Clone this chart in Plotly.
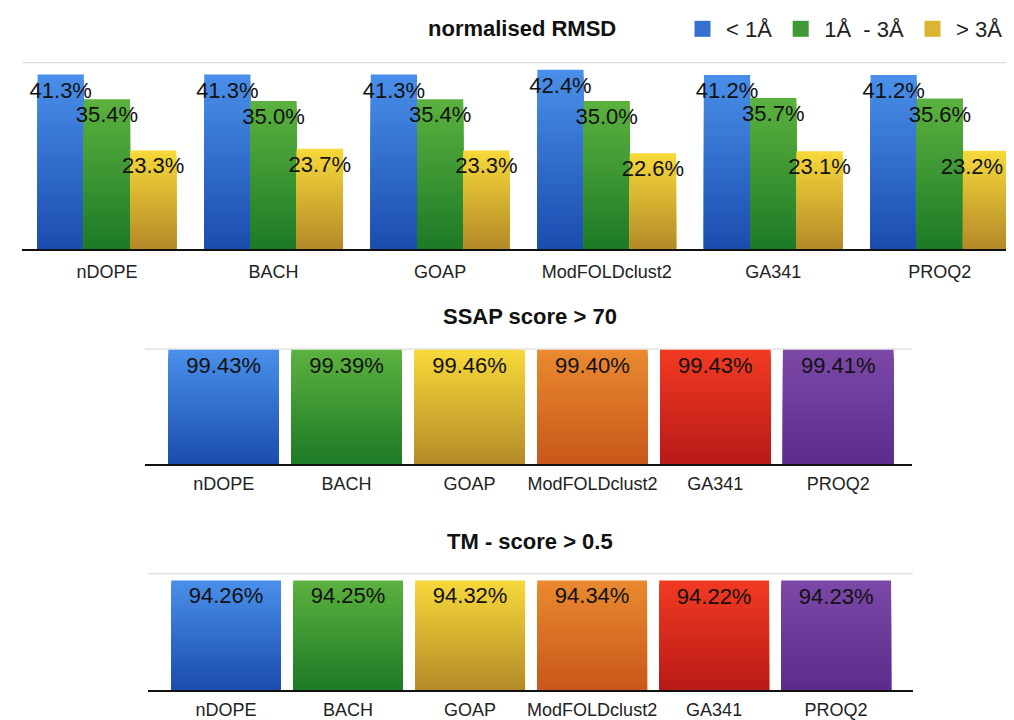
import plotly.graph_objects as go

# ---------------- data ----------------
methods = ["nDOPE", "BACH", "GOAP", "ModFOLDclust2", "GA341", "PROQ2"]

rmsd_series = ["< 1Å", "1Å\u00a0 - 3Å", "> 3Å"]
rmsd_lt1 = [41.3, 41.3, 41.3, 42.4, 41.2, 41.2]
rmsd_1to3 = [35.4, 35.0, 35.4, 35.0, 35.7, 35.6]
rmsd_gt3 = [23.3, 23.7, 23.3, 22.6, 23.1, 23.2]

ssap_gt70 = [99.43, 99.39, 99.46, 99.40, 99.43, 99.41]
tm_gt05 = [94.26, 94.25, 94.32, 94.34, 94.22, 94.23]

# ---------------- styles ----------------
FONT = "Liberation Sans, Arial, Helvetica, sans-serif"
# (bottom colour, top colour) for gradient-like bars
GRAD = {
    "blue": ((26, 76, 174), (74, 144, 234)),
    "green": ((29, 122, 38), (92, 178, 63)),
    "gold": ((179, 138, 40), (247, 217, 58)),
    "orange": ((200, 87, 26), (234, 138, 48)),
    "red": ((184, 26, 24), (242, 58, 34)),
    "purple": ((91, 45, 140), (124, 72, 168)),
}
rmsd_colors = ["blue", "green", "gold"]
method_colors = ["blue", "green", "gold", "orange", "red", "purple"]
N_STEPS = 28


def shade(name, f):
    lo, hi = GRAD[name]
    c = [round(lo[i] + (hi[i] - lo[i]) * f) for i in range(3)]
    return f"rgb({c[0]},{c[1]},{c[2]})"


def mid(name):
    return shade(name, 0.55)


fig = go.Figure()


def gradient_bars(values, colornames, xa, ya, offset, width, labels, label_offset=None):
    # overlapping bars from zero, tallest first, to imitate a vertical gradient
    for k in range(N_STEPS):
        frac = (N_STEPS - k) / N_STEPS
        f = (N_STEPS - k - 0.5) / N_STEPS
        if isinstance(colornames, str):
            col = shade(colornames, f)
        else:
            col = [shade(c, f) for c in colornames]
        fig.add_trace(go.Bar(
            x=methods, y=[v * frac for v in values],
            marker=dict(color=col, line=dict(width=0)),
            offset=offset, width=width, xaxis=xa, yaxis=ya,
            showlegend=False, hoverinfo="skip"))
    # transparent full-height bar carrying the data labels
    fig.add_trace(go.Bar(
        x=methods, y=values, text=labels, textangle=0,
        textposition="inside", insidetextanchor="end", constraintext="none",
        insidetextfont=dict(family=FONT, size=22, color="#111111"),
        marker=dict(color="rgba(0,0,0,0)", line=dict(width=0)),
        offset=label_offset if label_offset is not None else offset,
        width=width, xaxis=xa, yaxis=ya,
        showlegend=False, hoverinfo="skip", cliponaxis=False))


# ---- top panel: normalised RMSD (grouped) ----
bw = 0.2775
offsets = [-1.5 * bw, -0.5 * bw, 0.5 * bw]
for i, (vals, cname, off) in enumerate(zip([rmsd_lt1, rmsd_1to3, rmsd_gt3], rmsd_colors, offsets)):
    lab_off = None
    if i == 2:
        # nudge the right-most label left so it stays inside the visible page
        lab_off = [off] * (len(methods) - 1) + [off - 0.085]
    gradient_bars(vals, cname, "x", "y", off, bw, [f"{v:.1f}%" for v in vals], lab_off)

# legend entries
for name, cname in zip(rmsd_series, rmsd_colors):
    fig.add_trace(go.Scatter(
        x=[None], y=[None], mode="markers", name=name,
        marker=dict(symbol="square", size=16, color=mid(cname)),
        xaxis="x", yaxis="y", showlegend=True))

# ---- middle panel: SSAP ----
gradient_bars(ssap_gt70, method_colors, "x2", "y2", -0.45, 0.9,
              [f"{v:.2f}%" for v in ssap_gt70])

# ---- bottom panel: TM-score ----
gradient_bars(tm_gt05, method_colors, "x3", "y3", -0.45, 0.9,
              [f"{v:.2f}%" for v in tm_gt05])

# page body has an 8px margin: figure drawn at (8, 8)
OFF = 8
W, H = 1014 - OFF, 720 - OFF


def px_x(p):
    return (p - OFF) / W


def px_y(p):
    return 1 - (p - OFF) / H


xcommon = dict(type="category", showline=True, linecolor="#111111", linewidth=2,
               showgrid=False, ticks="", zeroline=False, fixedrange=True,
               tickfont=dict(family=FONT, size=18, color="#222222"))
ycommon = dict(showgrid=False, showline=False, showticklabels=False, zeroline=False,
               ticks="", fixedrange=True)

fig.update_layout(
    width=W, height=H,
    margin=dict(l=0, r=0, t=0, b=0),
    paper_bgcolor="white", plot_bgcolor="white",
    barmode="overlay",
    font=dict(family=FONT, color="#222222"),
    xaxis=dict(xcommon, domain=[px_x(22), 1.0], range=[-0.51, 5.445],
               anchor="y", ticklabelstandoff=6),
    yaxis=dict(ycommon, domain=[px_y(250), px_y(63)], range=[0, 44.1], anchor="x"),
    xaxis2=dict(xcommon, domain=[px_x(145), px_x(912)], range=[-0.64, 5.6], anchor="y2",
                ticklabelstandoff=2),
    yaxis2=dict(ycommon, domain=[px_y(467), px_y(351)], range=[0, 100], anchor="x2"),
    xaxis3=dict(xcommon, domain=[px_x(148), px_x(913)], range=[-0.64, 5.63], anchor="y3",
                ticklabelstandoff=2),
    yaxis3=dict(ycommon, domain=[px_y(694), px_y(577)], range=[0, 100], anchor="x3"),
    legend=dict(orientation="h", x=px_x(1008), xanchor="right", y=px_y(29), yanchor="middle",
                font=dict(family=FONT, size=22, color="#222222"),
                bgcolor="rgba(0,0,0,0)", itemsizing="trace", traceorder="normal",
                itemwidth=37),
    showlegend=True,
)

# top gridlines
for xa, ya in [("x", "y"), ("x2", "y2"), ("x3", "y3")]:
    fig.add_shape(type="line", xref=f"{xa} domain", yref=f"{ya} domain",
                  x0=0, x1=1, y0=1, y1=1, line=dict(color="#d4d4d4", width=1),
                  layer="below")

titles = [("normalised RMSD", 522, 29), ("SSAP score > 70", 530, 318),
          ("TM - score > 0.5", 530, 545)]
for txt, xp, yp in titles:
    fig.add_annotation(text=f"<b>{txt}</b>", x=px_x(xp), y=px_y(yp), xref="paper",
                       yref="paper", showarrow=False, xanchor="center", yanchor="middle",
                       font=dict(family=FONT, size=22, color="#111111"))

fig.write_html("out.html")
